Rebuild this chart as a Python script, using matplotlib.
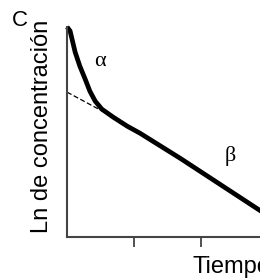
import matplotlib
matplotlib.use("Agg")
import matplotlib.pyplot as plt

plt.rcParams['font.family'] = ['Liberation Sans', 'DejaVu Sans']

# curve (time, ln concentration)
tiempo = [0.0, 0.045, 0.12, 0.19, 0.27, 0.34, 0.42, 0.52, 0.69, 0.90, 1.09, 1.69, 2.88, 3.10]
ln_conc = [4.18, 4.10, 3.68, 3.40, 3.14, 2.90, 2.70, 2.54, 2.38, 2.20, 2.06, 1.56, 0.52, 0.34]

# back-extrapolated beta phase (dashed)
extrap_t = [0.0, 0.64]
extrap_y = [2.88, 2.42]

xticks = [1, 2]

fig = plt.figure(figsize=(2.6, 2.78), dpi=100)
ax = fig.add_axes([0.258, 0.149, 0.858, 0.754])

ax.plot(tiempo, ln_conc, color='black', lw=3.4, solid_capstyle='butt', clip_on=False)
ax.plot(extrap_t, extrap_y, color='black', lw=0.9, ls=(0, (4, 2)))

ax.set_xlim(0, 3.33)
ax.set_ylim(0, 4.18)

for s in ['top', 'right']:
    ax.spines[s].set_visible(False)
for s in ['left', 'bottom']:
    ax.spines[s].set_color('#444444')
    ax.spines[s].set_linewidth(1.5)

ax.set_xticks(xticks)
ax.set_xticklabels([])
ax.set_yticks([])
ax.tick_params(axis='x', direction='out', length=7, width=1.2, color='#333333')

ax.set_xlabel('Tiempo', fontsize=17)
ax.xaxis.set_label_coords(0.735, -0.095)
ax.set_ylabel('Ln de concentración', fontsize=17)
ax.yaxis.set_label_coords(-0.063, 0.527)

ax.text(0.49, 3.5, 'α', fontsize=16, family='Liberation Serif', ha='center', va='center')
ax.text(2.43, 1.6, 'β', fontsize=16, family='Liberation Serif', ha='center', va='center')

fig.text(0.077, 0.925, 'C', fontsize=16, ha='center', va='center')

fig.savefig('out.png', dpi=100)
